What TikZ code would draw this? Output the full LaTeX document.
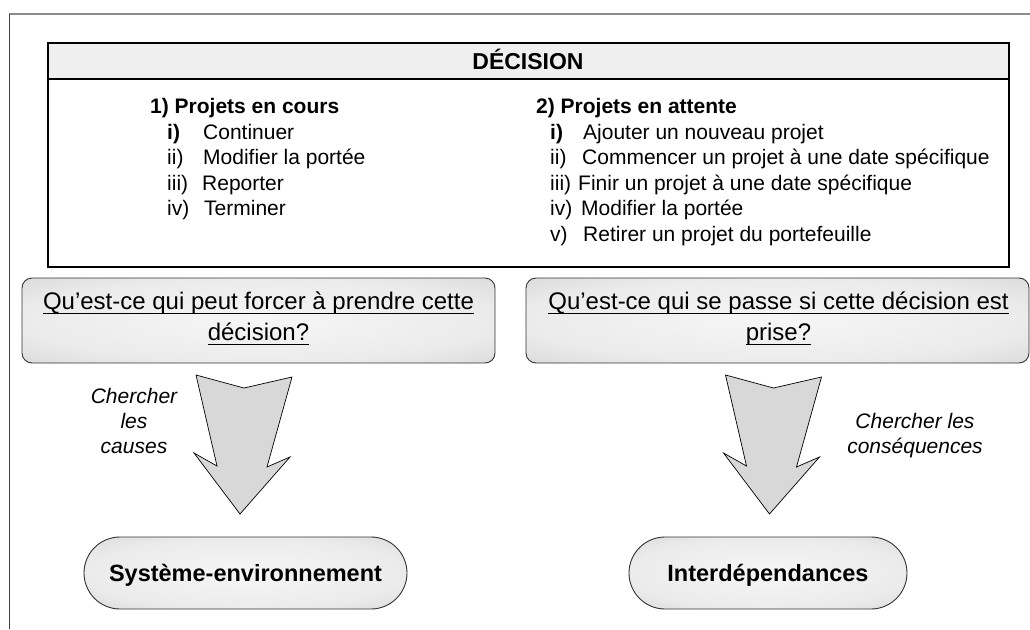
\documentclass[tikz,border=0pt]{standalone}
\usepackage{fontspec}
\setmainfont{Liberation Sans}
\definecolor{hdrfill}{HTML}{EFEFEF}
\definecolor{arrowgray}{HTML}{D8D8D8}
\definecolor{framegray}{HTML}{8C8C8C}
\definecolor{sczero}{HTML}{F6F6F6}
\definecolor{scone}{HTML}{EBEBEB}
\definecolor{sctwo}{HTML}{C6C6C6}
\definecolor{scthree}{HTML}{B8B8B8}
\pgfdeclareradialshading{softgray}{\pgfpoint{0bp}{0bp}}{color(0bp)=(sczero); color(25bp)=(scone); color(50bp)=(sctwo); color(75bp)=(scthree)}
\newcommand{\myul}[1]{\setbox0=\hbox{#1}\rlap{\rule[-4.8pt]{\wd0}{1.3pt}}\box0}
\newcommand{\itm}[3]{\makebox[#1][l]{#2}#3}
\begin{document}
\begin{tikzpicture}[x=1pt,y=-1pt,
  lst/.style={anchor=base west, inner sep=0pt, font=\fontsize{21}{25}\selectfont},
  lstb/.style={anchor=base west, inner sep=0pt, font=\fontsize{21}{25}\selectfont\bfseries},
  qbox/.style={draw=black!80, line width=0.9pt, rounded corners=10pt, shading=softgray, inner sep=0pt},
  qtxt/.style={anchor=base, inner sep=0pt, font=\fontsize{24}{30}\selectfont},
  lbl/.style={anchor=base, inner sep=0pt, font=\fontsize{21}{25}\selectfont\itshape},
  oval/.style={draw=black!80, line width=0.9pt, rounded corners=36pt, shading=softgray, inner sep=0pt,
    minimum height=72pt, font=\fontsize{23.5}{28}\selectfont\bfseries, text height=17pt, text depth=0pt},
  bigarrow/.style={fill=arrowgray, draw=black, line width=0.7pt, line join=miter}
]
\useasboundingbox (0,0) rectangle (1030,629);
% outer frame
\draw[framegray, line width=2pt] (8.5,14) -- (1030,14);
\draw[black!75, line width=1pt] (9,14) -- (9,629);

% decision box
\fill[hdrfill] (48,43) rectangle (1009,79);
\draw[black, line width=2pt] (48,79) -- (1009,79);
\node[draw=black, line width=2.6pt, minimum width=961pt, minimum height=224pt, inner sep=0pt] (decision) at (528.5,155) {};
\node[anchor=base, inner sep=0pt, font=\fontsize{23}{28}\selectfont\bfseries] (title) at (528,69) {DÉCISION};

% left list
\node[lstb] (c1) at (150,113) {1) Projets en cours};
\node[lst] (c1a) at (167,139) {\itm{36pt}{\textbf{i)}}{Continuer}};
\node[lst] (c1b) at (167,164.5) {\itm{36pt}{ii)}{Modifier la portée}};
\node[lst] (c1c) at (167,190) {\itm{35pt}{iii)}{Reporter}};
\node[lst] (c1d) at (167,215.5) {\itm{37pt}{iv)}{Terminer}};

% right list
\node[lstb] (c2) at (536,113) {2) Projets en attente};
\node[lst] (c2a) at (550,139) {\itm{33pt}{\textbf{i)}}{Ajouter un nouveau projet}};
\node[lst] (c2b) at (550,164.5) {\itm{32pt}{ii)}{Commencer un projet à une date spécifique}};
\node[lst] (c2c) at (550,190) {\itm{28pt}{iii)}{Finir un projet à une date spécifique}};
\node[lst] (c2d) at (550,215.5) {\itm{31pt}{iv)}{Modifier la portée}};
\node[lst] (c2e) at (550,241) {\itm{33pt}{v)}{Retirer un projet du portefeuille}};

% question boxes
\node[qbox, minimum width=473pt, minimum height=85pt] (qleft) at (258.5,320.5) {};
\node[qbox, minimum width=503pt, minimum height=85pt] (qright) at (777.5,320.5) {};
\node[qtxt] (ql1) at (258.5,309) {\myul{Qu’est-ce qui peut forcer à prendre cette}};
\node[qtxt] (ql2) at (258.5,340) {\myul{décision?}};
\node[qtxt] (qr1) at (778.5,309) {\myul{Qu’est-ce qui se passe si cette décision est}};
\node[qtxt] (qr2) at (778.5,340) {\myul{prise?}};

% block arrows
\draw[bigarrow] (196,375) -- (244,388) -- (292,377) -- (267,467) -- (290,457) -- (240,514) -- (194,453) -- (217,466) -- cycle;
\begin{scope}[xshift=529.5pt]
\draw[bigarrow] (196,375) -- (244,388) -- (292,377) -- (267,467) -- (290,457) -- (240,514) -- (194,453) -- (217,466) -- cycle;
\end{scope}

% labels
\node[lbl] (la1) at (134,403) {Chercher};
\node[lbl] (la2) at (134,428) {les};
\node[lbl] (la3) at (134,453) {causes};
\node[lbl] (lb1) at (915,428) {Chercher les};
\node[lbl] (lb2) at (915,453) {conséquences};

% ovals
\node[oval, minimum width=323pt] (sys) at (245.5,573) {Système-environnement};
\node[oval, minimum width=278pt] (inter) at (768,573) {Interdépendances};
\end{tikzpicture}
\end{document}
